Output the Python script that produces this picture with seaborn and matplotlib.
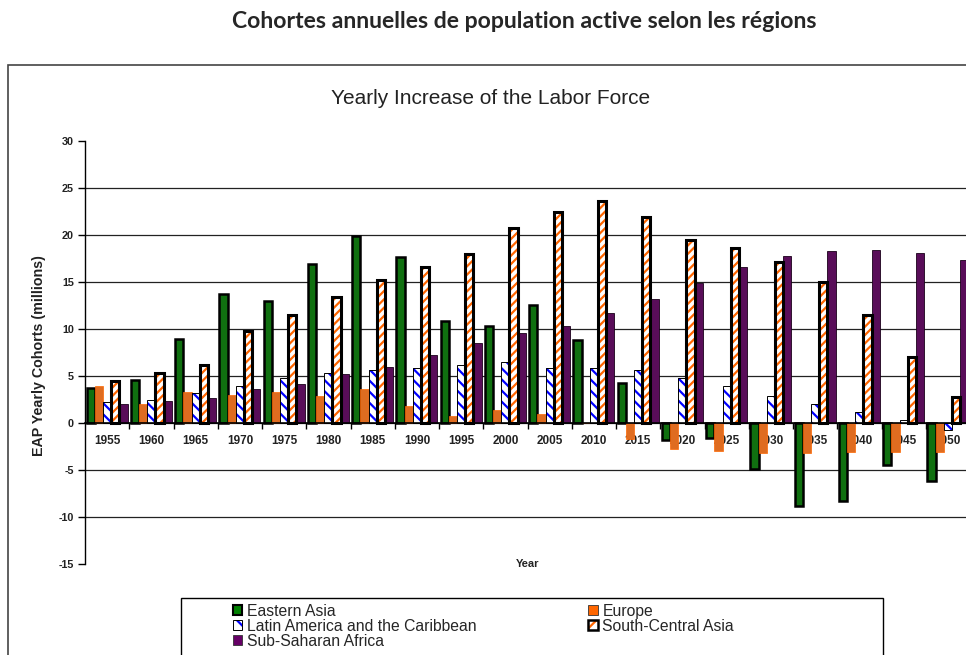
"""Yearly increase of the labor force by region (EAP yearly cohorts)."""

import matplotlib

matplotlib.use("Agg")

import matplotlib.pyplot as plt
import pandas as pd
import seaborn as sns
from matplotlib.legend_handler import HandlerTuple
from matplotlib.patches import Patch, Rectangle

# Data (millions)
years = ["1955", "1960", "1965", "1970", "1975", "1980", "1985", "1990", "1995", "2000",
         "2005", "2010", "2015", "2020", "2025", "2030", "2035", "2040", "2045", "2050"]
eastern_asia = [3.7, 4.6, 8.9, 13.7, 13.0, 16.9, 19.9, 17.7, 10.8, 10.3,
                12.55, 8.8, 4.3, -1.8, -1.6, -4.9, -8.8, -8.3, -4.5, -6.2]
europe = [3.9, 2.0, 3.3, 3.0, 3.3, 2.9, 3.6, 1.8, 0.75, 1.4,
          1.0, 0.05, -1.7, -2.8, -3.0, -3.15, -3.15, -3.1, -3.1, -3.1]
latin_america = [2.2, 2.5, 3.2, 3.9, 4.75, 5.35, 5.6, 5.9, 6.2, 6.5,
                 5.9, 5.9, 5.6, 4.75, 3.9, 2.9, 2.0, 1.2, 0.3, -0.7]
south_central_asia = [4.5, 5.3, 6.2, 9.8, 11.5, 13.4, 15.2, 16.6, 18.0, 20.7,
                      22.5, 23.65, 21.95, 19.5, 18.6, 17.1, 15.0, 11.5, 7.05, 2.8]
sub_saharan_africa = [2.0, 2.3, 2.7, 3.6, 4.2, 5.2, 6.0, 7.2, 8.5, 9.6,
                      10.35, 11.7, 13.2, 14.9, 16.6, 17.8, 18.3, 18.4, 18.1, 17.35]

regions = ["Eastern Asia", "Europe", "Latin America and the Caribbean",
           "South-Central Asia", "Sub-Saharan Africa"]

GREEN = "#008000"
ORANGE = "#FF6600"
BLUE = "#0000FF"
PURPLE = "#660066"

df = pd.DataFrame({
    "Year": years,
    regions[0]: eastern_asia,
    regions[1]: europe,
    regions[2]: latin_america,
    regions[3]: south_central_asia,
    regions[4]: sub_saharan_africa,
}).melt(id_vars="Year", var_name="Region", value_name="Cohort")

sns.set_style("white")
plt.rcParams["font.family"] = ["Liberation Sans", "DejaVu Sans"]
plt.rcParams["axes.unicode_minus"] = False
plt.rcParams["hatch.linewidth"] = 1.6

fig = plt.figure(figsize=(9.66, 6.55), dpi=100)
ax = fig.add_axes([85 / 966, 1 - 564 / 655, 885 / 966, 423 / 655])

sns.barplot(
    data=df, x="Year", y="Cohort", hue="Region", order=years, hue_order=regions,
    palette=[GREEN, ORANGE, "white", "white", PURPLE],
    width=0.93, gap=0, legend=False, ax=ax, zorder=3,
)


def outline(bar, lw):
    """Black frame on top of a hatched bar (hatch takes the edge colour)."""
    ax.add_patch(Rectangle(bar.get_xy(), bar.get_width(), bar.get_height(),
                           fill=False, edgecolor="black", linewidth=lw, zorder=4))


# style each series like the original spreadsheet chart
green_bars, orange_bars, latin_bars, sca_bars, ssa_bars = ax.containers
for bar in green_bars:
    bar.set_edgecolor("black")
    bar.set_linewidth(1.8)
for bar in orange_bars:
    bar.set_edgecolor(ORANGE)
    bar.set_linewidth(0.5)
for bar in latin_bars:
    bar.set_facecolor("white")
    bar.set_edgecolor(BLUE)
    bar.set_hatch("\\\\\\")
    bar.set_linewidth(0)
    outline(bar, 0.7)
for bar in sca_bars:
    bar.set_facecolor("white")
    bar.set_edgecolor(ORANGE)
    bar.set_hatch("////")
    bar.set_linewidth(0)
    outline(bar, 2.2)
for bar in ssa_bars:
    bar.set_edgecolor("#1a001a")
    bar.set_linewidth(0.6)

ax.set_ylim(-15, 30)
ax.set_yticks(range(-15, 31, 5))
ax.set_xlim(-0.5, len(years) - 0.5)

# axes and grid
for side in ["top", "right"]:
    ax.spines[side].set_visible(False)
ax.spines["bottom"].set_position(("data", 0))
ax.spines["bottom"].set_color("black")
ax.spines["bottom"].set_linewidth(1.2)
ax.spines["bottom"].set_zorder(5)
ax.spines["left"].set_color("black")
ax.spines["left"].set_linewidth(1.0)

ax.yaxis.grid(True, color="#222222", linewidth=0.9, zorder=0)
gridlines = ax.get_ygridlines()
gridlines[0].set_visible(False)
gridlines[-1].set_visible(False)

ax.tick_params(axis="y", left=True, length=5, width=1, direction="out",
               pad=3, labelsize=7.8, color="black")
ax.tick_params(axis="x", which="major", length=0, pad=9, labelsize=8.5)
ax.set_xticks([i + 0.5 for i in range(len(years) - 1)], minor=True)
ax.tick_params(axis="x", which="minor", bottom=True, length=4, width=1,
               direction="out", color="black")
for lab in ax.get_xticklabels() + ax.get_yticklabels():
    lab.set_fontweight("bold")
    lab.set_color("#222222")

ax.set_xlabel("")
ax.set_ylabel("")
ax.text(0.5, 0.0, "Year", transform=ax.transAxes, ha="center", va="center",
        fontsize=8, fontweight="bold", color="#222222")
fig.text(39 / 966, 1 - 356 / 655, "EAP Yearly Cohorts (millions)", rotation=90,
         ha="center", va="center", fontsize=10.3, fontweight="bold", color="#222222")

# titles
fig.text(524 / 966, 1 - 21 / 655, "Cohortes annuelles de population active selon les régions",
         ha="center", va="center", fontsize=16.6, fontweight="bold",
         family=["Lato", "DejaVu Sans"])
fig.text(491 / 966, 1 - 98 / 655, "Yearly Increase of the Labor Force",
         ha="center", va="center", fontsize=15, color="#222222")

# outer chart border
fig.add_artist(Rectangle((8 / 966, -0.05), 1.1, 0.05 + 1 - 65 / 655,
                         transform=fig.transFigure, fill=False,
                         edgecolor="#444444", linewidth=1.2))
# legend frame
fig.add_artist(Rectangle((181 / 966, -0.05), (883 - 181) / 966, 0.05 + 1 - 598 / 655,
                         transform=fig.transFigure, fill=False,
                         edgecolor="black", linewidth=1.0))

handles = [
    Patch(facecolor=GREEN, edgecolor="black", linewidth=1.5),
    (Patch(facecolor="white", edgecolor=BLUE, hatch="\\\\", linewidth=0),
     Patch(facecolor="none", edgecolor="black", linewidth=0.7)),
    Patch(facecolor=PURPLE, edgecolor="#333333", linewidth=0.6),
    Patch(facecolor=ORANGE, edgecolor="#333333", linewidth=0.6),
    (Patch(facecolor="white", edgecolor=ORANGE, hatch="//", linewidth=0),
     Patch(facecolor="none", edgecolor="black", linewidth=1.8)),
]
labels = [regions[0], regions[2], regions[4], regions[1], regions[3]]
fig.legend(handles, labels, ncol=2, loc="upper left",
           bbox_to_anchor=(233 / 966, 1 - 604 / 655), frameon=False,
           fontsize=11.3, handlelength=0.6, handleheight=0.6, handletextpad=0.3,
           labelspacing=0.0, columnspacing=7.1, borderpad=0, borderaxespad=0,
           handler_map={tuple: HandlerTuple(ndivide=1)})

fig.savefig("out.png", dpi=100)
